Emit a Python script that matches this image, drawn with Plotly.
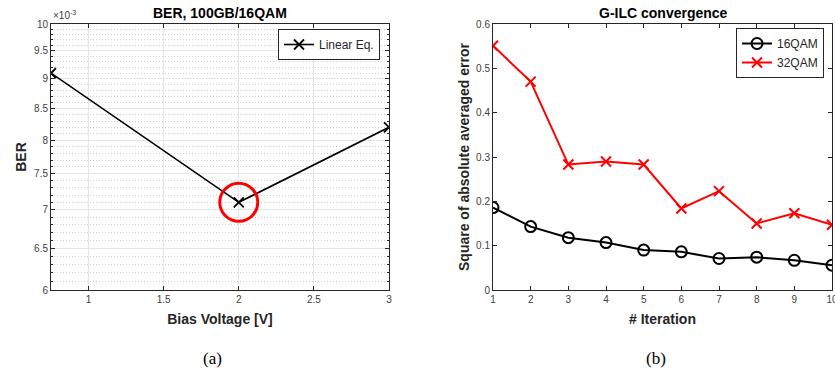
import plotly.graph_objects as go
import numpy as np

# ---- data ----
bias_v = [0.75, 2.0, 3.0]
ber_linear = [9.1e-3, 7.1e-3, 8.2e-3]
highlight_x = [2.0]
highlight_y = [7.1e-3]

iterations = [1, 2, 3, 4, 5, 6, 7, 8, 9, 10]
err_16qam = [0.186, 0.143, 0.118, 0.107, 0.090, 0.086, 0.071, 0.074, 0.067, 0.056]
err_32qam = [0.551, 0.470, 0.283, 0.290, 0.283, 0.184, 0.223, 0.150, 0.173, 0.147]

ber_ticks = [6e-3, 6.5e-3, 7e-3, 7.5e-3, 8e-3, 8.5e-3, 9e-3, 9.5e-3, 10e-3]
ber_ticktext = ["6", "6.5", "7", "7.5", "8", "8.5", "9", "9.5", "10"]
ber_minor = [round(v * 1e-4, 6) for v in range(60, 101) if v % 5 != 0]
bias_ticks = [1, 1.5, 2, 2.5, 3]
bias_ticktext = ["1", "1.5", "2", "2.5", "3"]
err_ticks = [0, 0.1, 0.2, 0.3, 0.4, 0.5, 0.6]
err_ticktext = ["0", "0.1", "0.2", "0.3", "0.4", "0.5", "0.6"]

W, H = 835, 372
FONT = "Liberation Sans, Arial, sans-serif"
TICKC = "#404040"
TS = 14  # title / axis-title size

def px_x(p):
    return p / W

def px_y(p):
    return 1 - p / H

fig = go.Figure()

fig.add_trace(go.Scatter(
    x=bias_v, y=ber_linear, mode="lines+markers", name="Linear Eq.",
    line=dict(color="black", width=1.6),
    marker=dict(symbol="x-thin-open", size=10, line=dict(color="black", width=1.8)),
    xaxis="x", yaxis="y", legend="legend"))
fig.add_trace(go.Scatter(
    x=highlight_x, y=highlight_y, mode="markers", showlegend=False,
    marker=dict(symbol="circle-open", size=38, color="red", line=dict(color="red", width=3)),
    xaxis="x", yaxis="y", hoverinfo="skip"))

fig.add_trace(go.Scatter(
    x=iterations, y=err_16qam, mode="lines+markers", name="16QAM",
    line=dict(color="black", width=2),
    marker=dict(symbol="circle-open", size=11, color="black", line=dict(color="black", width=2)),
    xaxis="x2", yaxis="y2", legend="legend2"))
fig.add_trace(go.Scatter(
    x=iterations, y=err_32qam, mode="lines+markers", name="32QAM",
    line=dict(color="red", width=2),
    marker=dict(symbol="x-thin-open", size=10, color="red", line=dict(color="red", width=2)),
    xaxis="x2", yaxis="y2", legend="legend2"))

ax_common = dict(showline=True, linecolor="#262626", linewidth=1, mirror="ticks",
                 ticks="inside", ticklen=4, tickcolor="#262626", automargin=False,
                 ticklabeloverflow="allow",
                 tickfont=dict(family=FONT, size=10, color=TICKC), zeroline=False)

fig.update_layout(
    width=W, height=H, margin=dict(l=0, r=0, t=0, b=0),
    paper_bgcolor="white", plot_bgcolor="white",
    font=dict(family=FONT, color="#262626"),
    xaxis=dict(domain=[px_x(51), px_x(389)], range=[0.75, 3], tickvals=bias_ticks,
               ticktext=bias_ticktext, showgrid=True, gridcolor="#e6e6e6", gridwidth=1,
               title=dict(text="<b>Bias Voltage [V]</b>", font=dict(size=TS, family=FONT), standoff=10),
               anchor="y", **ax_common),
    yaxis=dict(domain=[px_y(290), px_y(24)], type="log",
               range=[np.log10(6e-3), np.log10(10e-3)], tickvals=ber_ticks, ticktext=ber_ticktext,
               showgrid=True, gridcolor="#e6e6e6", gridwidth=1,
               minor=dict(tickmode="array", tickvals=ber_minor, ticks="inside", ticklen=2,
                          tickcolor="#262626", showgrid=True, gridcolor="#cfcfcf",
                          griddash="1px,2px", gridwidth=1),
               title=dict(text="<b>BER</b>", font=dict(size=TS, family=FONT), standoff=4),
               anchor="x", **ax_common),
    xaxis2=dict(domain=[px_x(493), px_x(832)], range=[1, 10], tickvals=iterations,
                ticktext=[str(i) for i in iterations], showgrid=False,
                title=dict(text="<b># Iteration</b>", font=dict(size=TS, family=FONT), standoff=10),
                anchor="y2", **ax_common),
    yaxis2=dict(domain=[px_y(290), px_y(24)], range=[0, 0.6], tickvals=err_ticks,
                ticktext=err_ticktext, showgrid=False,
                title=dict(text="<b>Square of absolute averaged error</b>", font=dict(size=TS, family=FONT), standoff=3),
                anchor="x2", **ax_common),
    legend=dict(x=px_x(380), y=px_y(29), xanchor="right", yanchor="top",
                bgcolor="white", bordercolor="#262626", borderwidth=1,
                font=dict(family=FONT, size=12, color="#262626"),
                itemwidth=30, tracegroupgap=0),
    legend2=dict(x=px_x(824), y=px_y(28), xanchor="right", yanchor="top",
                 bgcolor="white", bordercolor="#262626", borderwidth=1,
                 font=dict(family=FONT, size=12, color="#262626"),
                 itemwidth=30, tracegroupgap=0),
    showlegend=True,
    annotations=[
        dict(text="<b>BER, 100GB/16QAM</b>", x=px_x(220), y=px_y(13), xref="paper", yref="paper",
             xanchor="center", yanchor="middle",
             showarrow=False, font=dict(size=TS, family=FONT, color="black")),
        dict(text="<b>G-ILC convergence</b>", x=px_x(663), y=px_y(13), xref="paper", yref="paper",
             xanchor="center", yanchor="middle",
             showarrow=False, font=dict(size=TS, family=FONT, color="black")),
        dict(text="×10<sup>-3</sup>", x=px_x(51), y=px_y(23), xref="paper", yref="paper",
             xanchor="left", yanchor="bottom", showarrow=False,
             font=dict(size=10, family=FONT, color=TICKC)),
        dict(text="(a)", x=px_x(212), y=px_y(358), xref="paper", yref="paper",
             xanchor="center", yanchor="middle",
             showarrow=False, font=dict(size=17, family="Liberation Serif, Times New Roman, serif", color="black")),
        dict(text="(b)", x=px_x(656), y=px_y(358), xref="paper", yref="paper",
             xanchor="center", yanchor="middle",
             showarrow=False, font=dict(size=17, family="Liberation Serif, Times New Roman, serif", color="black")),
    ],
)

fig.write_html("out.html")
